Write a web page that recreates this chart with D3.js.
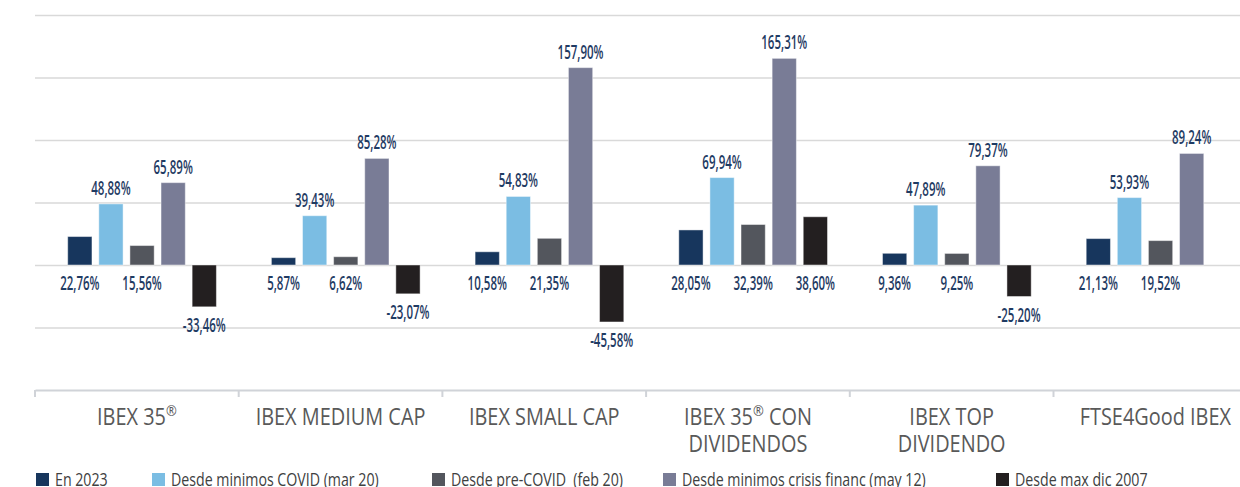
<!DOCTYPE html>
<html>
<head>
<meta charset="utf-8">
<script src="https://cdn.jsdelivr.net/npm/d3@7"></script>
<style>
  body { margin: 0; background: #fff; }
  svg { display: block; }
  text { font-family: "Open Sans", "Noto Sans", sans-serif; white-space: pre; }
</style>
</head>
<body>
<div id="chart"></div>
<script>
// data
var categories = ["IBEX 35®", "IBEX MEDIUM CAP", "IBEX SMALL CAP", "IBEX 35® CON\nDIVIDENDOS", "IBEX TOP\nDIVIDENDO", "FTSE4Good IBEX"];
var seriesNames = ["En 2023", "Desde minimos COVID (mar 20)", "Desde pre-COVID  (feb 20)", "Desde minimos crisis financ (may 12)", "Desde max dic 2007"];
var en2023 = [22.76, 5.87, 10.58, 28.05, 9.36, 21.13];
var minCovid = [48.88, 39.43, 54.83, 69.94, 47.89, 53.93];
var preCovid = [15.56, 6.62, 21.35, 32.39, 9.25, 19.52];
var minCrisis = [65.89, 85.28, 157.90, 165.31, 79.37, 89.24];
var maxDic2007 = [-33.46, -23.07, -45.58, 38.60, -25.20, null];
var gridTicks = [-50, 0, 50, 100, 150, 200];

var seriesValues = [en2023, minCovid, preCovid, minCrisis, maxDic2007];
var colors = ["#17365d", "#7bbde3", "#53565d", "#797c96", "#231f20"];

(function () {
    var width = 1240, height = 487;

    var svg = d3.select("#chart").append("svg")
        .attr("width", width)
        .attr("height", height);

    // scales
    var x = d3.scaleBand().domain(categories).range([35, 35 + 6 * 203.7]).padding(0);
    var x1 = d3.scaleBand().domain(d3.range(seriesNames.length)).range([32.7, 181.4]).paddingInner(0.22);
    var y = d3.scaleLinear().domain([-100, 200]).range([390, 15]);

    // measure a text to get a horizontal squeeze (the source font is condensed)
    function squeeze(str, size, weight, target) {
        var t = svg.append("text").style("font-size", size + "px").style("font-weight", weight).text(str);
        var w = t.node().getComputedTextLength();
        t.remove();
        return target / w;
    }
    var kValue = squeeze("165,31%", 20, 600, 46);
    var kCat = squeeze("IBEX MEDIUM CAP", 23, 400, 170);
    var kLeg = squeeze("Desde minimos COVID (mar 20)", 18, 400, 208);

    // gridlines
    var grid = svg.append("g")
        .attr("transform", "translate(35,0)")
        .call(d3.axisLeft(y).tickValues(gridTicks).tickSize(-(width - 35)).tickFormat(""));
    grid.select(".domain").remove();
    grid.selectAll(".tick line").attr("stroke", "#d9d9d9").attr("stroke-width", 1.5);

    // category axis
    var xAxis = svg.append("g")
        .attr("transform", "translate(0," + y(-100) + ")")
        .call(d3.axisBottom(x).tickSize(0).tickFormat(""));
    xAxis.select(".domain").attr("stroke", "#d0d3d8").attr("stroke-width", 2);
    xAxis.selectAll(".tick").remove();
    xAxis.selectAll(".sep")
        .data(categories)
        .enter().append("line")
        .attr("x1", function (d) { return x(d); })
        .attr("x2", function (d) { return x(d); })
        .attr("y1", 0)
        .attr("y2", 7)
        .attr("stroke", "#d0d3d8")
        .attr("stroke-width", 2);

    // flatten bars
    var bars = [];
    categories.forEach(function (c, i) {
        seriesValues.forEach(function (vals, s) {
            if (vals[i] !== null) bars.push({ cat: c, s: s, v: vals[i] });
        });
    });

    svg.append("g").selectAll("rect")
        .data(bars)
        .enter().append("rect")
        .attr("x", function (d) { return x(d.cat) + x1(d.s); })
        .attr("y", function (d) { return y(Math.max(0, d.v)); })
        .attr("width", x1.bandwidth())
        .attr("height", function (d) { return Math.abs(y(d.v) - y(0)); })
        .attr("fill", function (d) { return colors[d.s]; })
        .attr("stroke", "#ffffff")
        .attr("stroke-opacity", 0.45)
        .attr("stroke-width", 1);

    // value labels
    function fmt(v) {
        return v.toFixed(2).replace(".", ",") + "%";
    }
    svg.append("g").selectAll("text")
        .data(bars)
        .enter().append("text")
        .attr("transform", function (d) {
            var cx = x(d.cat) + x1(d.s) + x1.bandwidth() / 2;
            var ty;
            if (d.s === 1 || d.s === 3) {
                ty = y(d.v) - 9;
            } else {
                ty = y(Math.min(0, d.v)) + 25;
            }
            return "translate(" + cx + "," + ty + ") scale(" + kValue + ",1)";
        })
        .attr("text-anchor", "middle")
        .style("font-size", "20px")
        .style("font-weight", 600)
        .style("fill", "#1f3b63")
        .text(function (d) { return fmt(d.v); });

    // category labels
    var catText = svg.append("g").selectAll("text")
        .data(categories)
        .enter().append("text")
        .attr("transform", function (d) {
            return "translate(" + (x(d) + x.bandwidth() / 2) + ",425) scale(" + kCat + ",1)";
        })
        .attr("text-anchor", "middle")
        .style("font-size", "23px")
        .style("fill", "#595959");

    catText.each(function (d) {
        var t = d3.select(this);
        d.split("\n").forEach(function (line, li) {
            var parts = line.split("®");
            parts.forEach(function (p, pi) {
                var sp = t.append("tspan").text(p);
                if (pi === 0) sp.attr("x", 0).attr("dy", li === 0 ? 0 : 27);
                else sp.attr("dy", 9);
                if (pi < parts.length - 1) {
                    t.append("tspan").attr("dy", -9).style("font-size", "15px").text("®");
                }
            });
        });
    });

    // legend (item starts as laid out in the source)
    var legendX = [36, 152, 432, 663, 996];
    var legend = svg.append("g");
    seriesNames.forEach(function (name, s) {
        var lx = legendX[s];
        legend.append("rect")
            .attr("x", lx)
            .attr("y", 473)
            .attr("width", 13)
            .attr("height", 13)
            .attr("fill", colors[s]);
        legend.append("text")
            .attr("transform", "translate(" + (lx + 19) + ",486) scale(" + kLeg + ",1)")
            .style("font-size", "18px")
            .style("fill", "#404040")
            .text(name);
    });
})();
</script>
</body>
</html>
